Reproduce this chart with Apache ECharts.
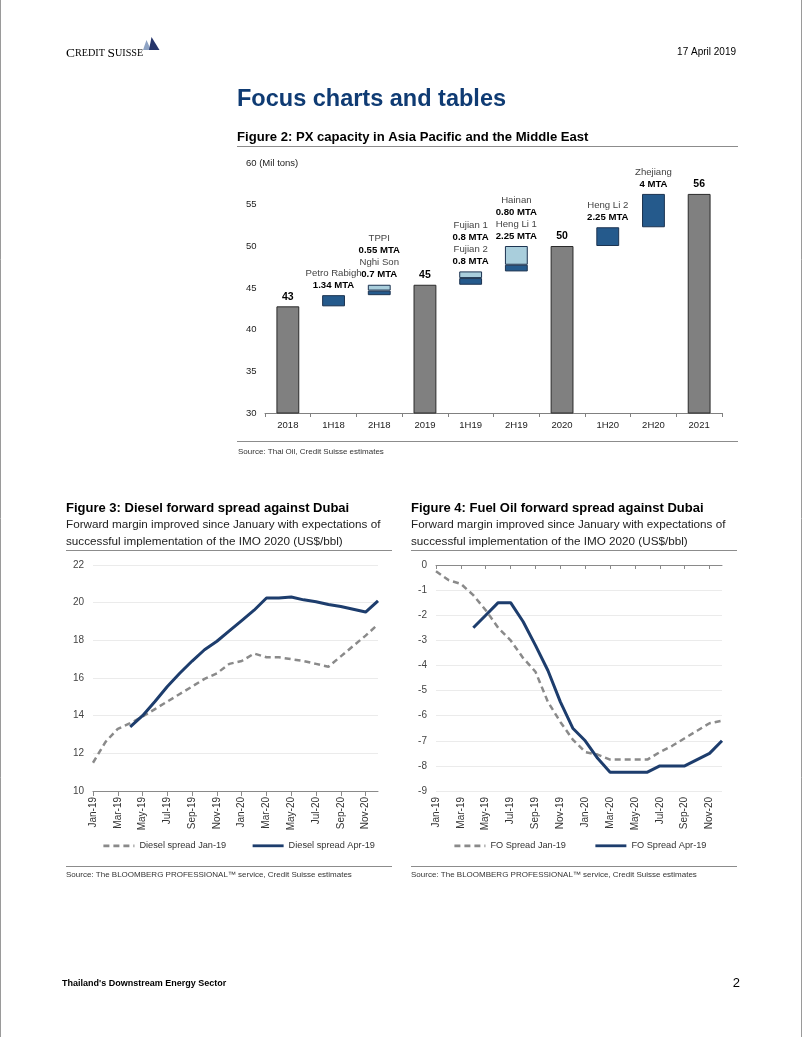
<!DOCTYPE html>
<html><head><meta charset="utf-8">
<script src="https://cdn.jsdelivr.net/npm/echarts@6/dist/echarts.min.js"></script>
<style>html,body{margin:0;padding:0;background:#fff}#c{width:802px;height:1037px}</style>
</head><body><div id="c"></div>
<script>
// ---------- Figure 2: PX capacity (Mil tons) ----------
const pxCategories = ['2018','1H18','2H18','2019','1H19','2H19','2020','1H20','2H20','2021'];
const pxStart = 42.8;                       // 2018 capacity
const pxTotalIdx = [0, 3, 6, 9];            // bars showing cumulative capacity
const pxAddDark  = [null, 1.34, 0.55, null, 0.8, 0.8, null, 2.25, 4, null];
const pxAddLight = [null, null, 0.7, null, 0.8, 2.25, null, null, null, null];
const pxProjects = [
  [], [['Petro Rabigh','1.34 MTA']],
  [['TPPI','0.55 MTA'],['Nghi Son','0.7 MTA']],
  [], [['Fujian 1','0.8 MTA'],['Fujian 2','0.8 MTA']],
  [['Hainan','0.80 MTA'],['Heng Li 1','2.25 MTA']],
  [], [['Heng Li 2','2.25 MTA']], [['Zhejiang','4 MTA']], []
];

// ---------- Figures 3 & 4: monthly forward spreads (US$/bbl) ----------
const months = ['Jan-19','Feb-19','Mar-19','Apr-19','May-19','Jun-19','Jul-19','Aug-19','Sep-19','Oct-19','Nov-19','Dec-19',
                'Jan-20','Feb-20','Mar-20','Apr-20','May-20','Jun-20','Jul-20','Aug-20','Sep-20','Oct-20','Nov-20','Dec-20'];
const dieselJan19 = [11.5, 12.6, 13.3, 13.6, 13.95, 14.35, 14.75, 15.15, 15.55, 15.95, 16.25, 16.75,
                     16.9, 17.3, 17.1, 17.1, 17.0, 16.9, 16.75, 16.6, 17.15, 17.7, 18.25, 18.85];
const dieselApr19 = [null, null, null, 13.4, 14.0, 14.75, 15.55, 16.25, 16.9, 17.5, 17.95, 18.5,
                     19.05, 19.6, 20.25, 20.25, 20.3, 20.15, 20.05, 19.9, 19.8, 19.65, 19.5, 20.1];
const foJan19 = [-0.25, -0.6, -0.75, -1.2, -1.8, -2.5, -3.0, -3.7, -4.25, -5.45, -6.25, -6.95,
                 -7.45, -7.55, -7.75, -7.75, -7.75, -7.75, -7.45, -7.2, -6.9, -6.6, -6.3, -6.2];
const foApr19 = [null, null, null, -2.5, -2.0, -1.5, -1.5, -2.25, -3.2, -4.2, -5.45, -6.5,
                 -7.0, -7.7, -8.25, -8.25, -8.25, -8.25, -8.0, -8.0, -8.0, -7.75, -7.5, -7.0];

// ---------- build waterfall stacks from the values ----------
const pxBase = [], pxTotals = [];
let run = pxStart;
pxCategories.forEach((c, i) => {
  if (pxTotalIdx.includes(i)) { pxTotals.push(run); pxBase.push(0); }
  else { pxTotals.push(null); pxBase.push(run); run += (pxAddDark[i] || 0) + (pxAddLight[i] || 0); }
});
function projLabel(i) {
  return pxProjects[i].map(p => '{n|' + p[0] + '}\n{v|' + p[1] + '}').join('\n');
}
const projRich = {
  n: {fontSize: 9.6, color: '#444', fontFamily: 'Liberation Sans', lineHeight: 12},
  v: {fontSize: 9.6, color: '#000', fontWeight: 'bold', fontFamily: 'Liberation Sans', lineHeight: 12}
};
const DARK = '#255a8c', LIGHT = '#a9cedc', EDGE = '#1c3350';
const darkData = pxAddDark.map((v, i) => (v == null) ? null : {
  value: v,
  label: {show: pxAddLight[i] == null, position: 'top', distance: 4, formatter: () => projLabel(i), rich: projRich}
});
const lightData = pxAddLight.map((v, i) => (v == null) ? null : {
  value: v,
  label: {show: true, position: 'top', distance: 4, formatter: () => projLabel(i), rich: projRich}
});

const F = 'Liberation Sans';
function txt(x, y, text, size, opts) {
  opts = opts || {};
  return {type: 'text', x: x, y: y, silent: true, style: Object.assign({
    text: text, fill: opts.color || '#000',
    font: (opts.bold ? 'bold ' : '') + size + 'px "' + F + '"',
    align: opts.align || 'left', verticalAlign: 'middle'
  }, opts.style || {})};
}
function rule(x1, x2, y, color, w) {
  return {type: 'line', silent: true, shape: {x1: x1, y1: y, x2: x2, y2: y}, style: {stroke: color || '#8c8c8c', lineWidth: w || 1}};
}

const chart = echarts.init(document.getElementById('c'), null, {renderer: 'canvas'});
const axisTextSmall = {fontFamily: F, fontSize: 10, color: '#333'};
const legendCommon = {itemWidth: 31, itemHeight: 12, itemStyle: {opacity: 0}, lineStyle: {width: 2.8},
                      textStyle: {fontFamily: F, fontSize: 9.2, color: '#333'}};

chart.setOption({
  animation: false,
  backgroundColor: '#fff',
  textStyle: {fontFamily: F},
  grid: [
    {left: 265, top: 163, width: 457, height: 250},
    {left: 93, top: 565, width: 285, height: 226},
    {left: 436, top: 565, width: 286, height: 226}
  ],
  xAxis: [
    {gridIndex: 0, type: 'category', data: pxCategories, boundaryGap: true,
     axisLine: {lineStyle: {color: '#808080'}}, axisTick: {show: true, length: 4, lineStyle: {color: '#808080'}},
     axisLabel: {fontFamily: F, fontSize: 9.5, color: '#222', margin: 7}},
    {gridIndex: 1, type: 'category', data: months, boundaryGap: false,
     axisLine: {lineStyle: {color: '#8a8a8a'}}, axisTick: {show: true, interval: 1, length: 5, lineStyle: {color: '#8a8a8a'}},
     axisLabel: Object.assign({interval: 1, rotate: 90, margin: 6}, axisTextSmall)},
    {gridIndex: 2, type: 'category', data: months, boundaryGap: false,
     axisLine: {show: false}, axisTick: {show: false},
     axisLabel: Object.assign({interval: 1, rotate: 90, margin: 6}, axisTextSmall)},
    {gridIndex: 2, type: 'category', data: months, boundaryGap: false, position: 'top',
     axisLine: {lineStyle: {color: '#8a8a8a'}}, axisTick: {show: true, inside: true, interval: 1, length: 4, lineStyle: {color: '#8a8a8a'}},
     axisLabel: {show: false}}
  ],
  yAxis: [
    {gridIndex: 0, type: 'value', min: 30, max: 60, interval: 5,
     axisLine: {show: false}, axisTick: {show: false}, splitLine: {show: false},
     axisLabel: {fontFamily: F, fontSize: 9.5, color: '#222', align: 'left', margin: 19,
                 formatter: v => v === 60 ? '60 (Mil tons)' : String(v)}},
    {gridIndex: 1, type: 'value', min: 10, max: 22, interval: 2,
     axisLine: {show: false}, axisTick: {show: false}, splitLine: {lineStyle: {color: '#ebebeb'}},
     axisLabel: Object.assign({margin: 9}, axisTextSmall, {color: '#444'})},
    {gridIndex: 2, type: 'value', min: -9, max: 0, interval: 1,
     axisLine: {show: false}, axisTick: {show: false}, splitLine: {lineStyle: {color: '#ebebeb'}},
     axisLabel: Object.assign({margin: 9}, axisTextSmall, {color: '#444'})}
  ],
  legend: [
    Object.assign({data: ['Diesel spread Jan-19', 'Diesel spread Apr-19'], left: 97, top: 836, itemGap: 25}, legendCommon),
    Object.assign({data: ['FO Spread Jan-19', 'FO Spread Apr-19'], left: 448, top: 836, itemGap: 28}, legendCommon)
  ],
  series: [
    {name: 'base', type: 'bar', stack: 'px', xAxisIndex: 0, yAxisIndex: 0, data: pxBase, barWidth: '50%',
     itemStyle: {color: 'rgba(0,0,0,0)'}, silent: true},
    {name: 'total', type: 'bar', stack: 'px', xAxisIndex: 0, yAxisIndex: 0, data: pxTotals, barWidth: '50%',
     itemStyle: {color: '#808080', borderColor: '#2a2a2a', borderWidth: 1},
     label: {show: true, position: 'top', distance: 4, fontFamily: F, fontSize: 10.5, fontWeight: 'bold', color: '#000',
             formatter: p => Math.round(p.value)}},
    {name: 'addDark', type: 'bar', stack: 'px', xAxisIndex: 0, yAxisIndex: 0, data: darkData, barWidth: '50%',
     itemStyle: {color: DARK, borderColor: EDGE, borderWidth: 1}},
    {name: 'addLight', type: 'bar', stack: 'px', xAxisIndex: 0, yAxisIndex: 0, data: lightData, barWidth: '50%',
     itemStyle: {color: LIGHT, borderColor: EDGE, borderWidth: 1}},
    {name: 'Diesel spread Jan-19', type: 'line', xAxisIndex: 1, yAxisIndex: 1, data: dieselJan19, symbol: 'none',
     lineStyle: {color: '#8a8a8a', width: 2.5, type: [6, 4]}, itemStyle: {color: '#8a8a8a'}},
    {name: 'Diesel spread Apr-19', type: 'line', xAxisIndex: 1, yAxisIndex: 1, data: dieselApr19, symbol: 'none',
     lineStyle: {color: '#1d3d6d', width: 3}, itemStyle: {color: '#1d3d6d'}},
    {name: 'FO Spread Jan-19', type: 'line', xAxisIndex: 2, yAxisIndex: 2, data: foJan19, symbol: 'none',
     lineStyle: {color: '#8a8a8a', width: 2.5, type: [6, 4]}, itemStyle: {color: '#8a8a8a'}},
    {name: 'FO Spread Apr-19', type: 'line', xAxisIndex: 2, yAxisIndex: 2, data: foApr19, symbol: 'none',
     lineStyle: {color: '#1d3d6d', width: 3}, itemStyle: {color: '#1d3d6d'}}
  ],
  graphic: [
    // page frame edges
    {type: 'line', silent: true, shape: {x1: 0.5, y1: 0, x2: 0.5, y2: 1037}, style: {stroke: '#9a9a9a', lineWidth: 1}},
    {type: 'line', silent: true, shape: {x1: 801.5, y1: 0, x2: 801.5, y2: 1037}, style: {stroke: '#9a9a9a', lineWidth: 1}},
    // logo
    {type: 'text', x: 66, y: 53.5, silent: true, style: {
      text: '{a|C}{b|REDIT }{a|S}{b|UISSE}', verticalAlign: 'middle',
      rich: {a: {fontFamily: 'Liberation Serif', fontSize: 13.4, color: '#25356a'},
             b: {fontFamily: 'Liberation Serif', fontSize: 10.2, color: '#25356a'}}}},
    {type: 'polygon', silent: true, shape: {points: [[143, 50], [146.5, 40], [151, 50]]}, style: {fill: '#8ea3c4'}},
    {type: 'polygon', silent: true, shape: {points: [[149, 50], [151.5, 37], [159.5, 50]]}, style: {fill: '#25356a'}},
    txt(736, 52, '17 April 2019', 10, {align: 'right'}),
    txt(237, 100, 'Focus charts and tables', 23.5, {bold: true, color: '#0f3b73'}),
    // Figure 2
    txt(237, 137, 'Figure 2: PX capacity in Asia Pacific and the Middle East', 13.1, {bold: true}),
    rule(237, 738, 146.5, '#8c8c8c', 1.2),
    rule(237, 738, 441.5, '#8c8c8c', 1),
    txt(238, 452, 'Source: Thai Oil, Credit Suisse estimates', 8, {color: '#333'}),
    // Figure 3
    txt(66, 508, 'Figure 3: Diesel forward spread against Dubai', 13, {bold: true}),
    txt(66, 525, 'Forward margin improved since January with expectations of', 11.7, {color: '#222'}),
    txt(66, 542, 'successful implementation of the IMO 2020 (US$/bbl)', 11.7, {color: '#222'}),
    rule(66, 392, 550.5, '#8c8c8c', 1.2),
    rule(66, 392, 866.5, '#8c8c8c', 1),
    txt(66, 875, 'Source: The BLOOMBERG PROFESSIONAL\u2122 service, Credit Suisse estimates', 8, {color: '#333'}),
    // Figure 4
    txt(411, 508, 'Figure 4: Fuel Oil forward spread against Dubai', 13, {bold: true}),
    txt(411, 525, 'Forward margin improved since January with expectations of', 11.7, {color: '#222'}),
    txt(411, 542, 'successful implementation of the IMO 2020 (US$/bbl)', 11.7, {color: '#222'}),
    rule(411, 737, 550.5, '#8c8c8c', 1.2),
    rule(411, 737, 866.5, '#8c8c8c', 1),
    txt(411, 875, 'Source: The BLOOMBERG PROFESSIONAL\u2122 service, Credit Suisse estimates', 8, {color: '#333'}),
    // footer
    txt(62, 984, "Thailand's Downstream Energy Sector", 9, {bold: true}),
    txt(740, 983, '2', 13, {align: 'right'})
  ]
});
</script>
</body></html>
